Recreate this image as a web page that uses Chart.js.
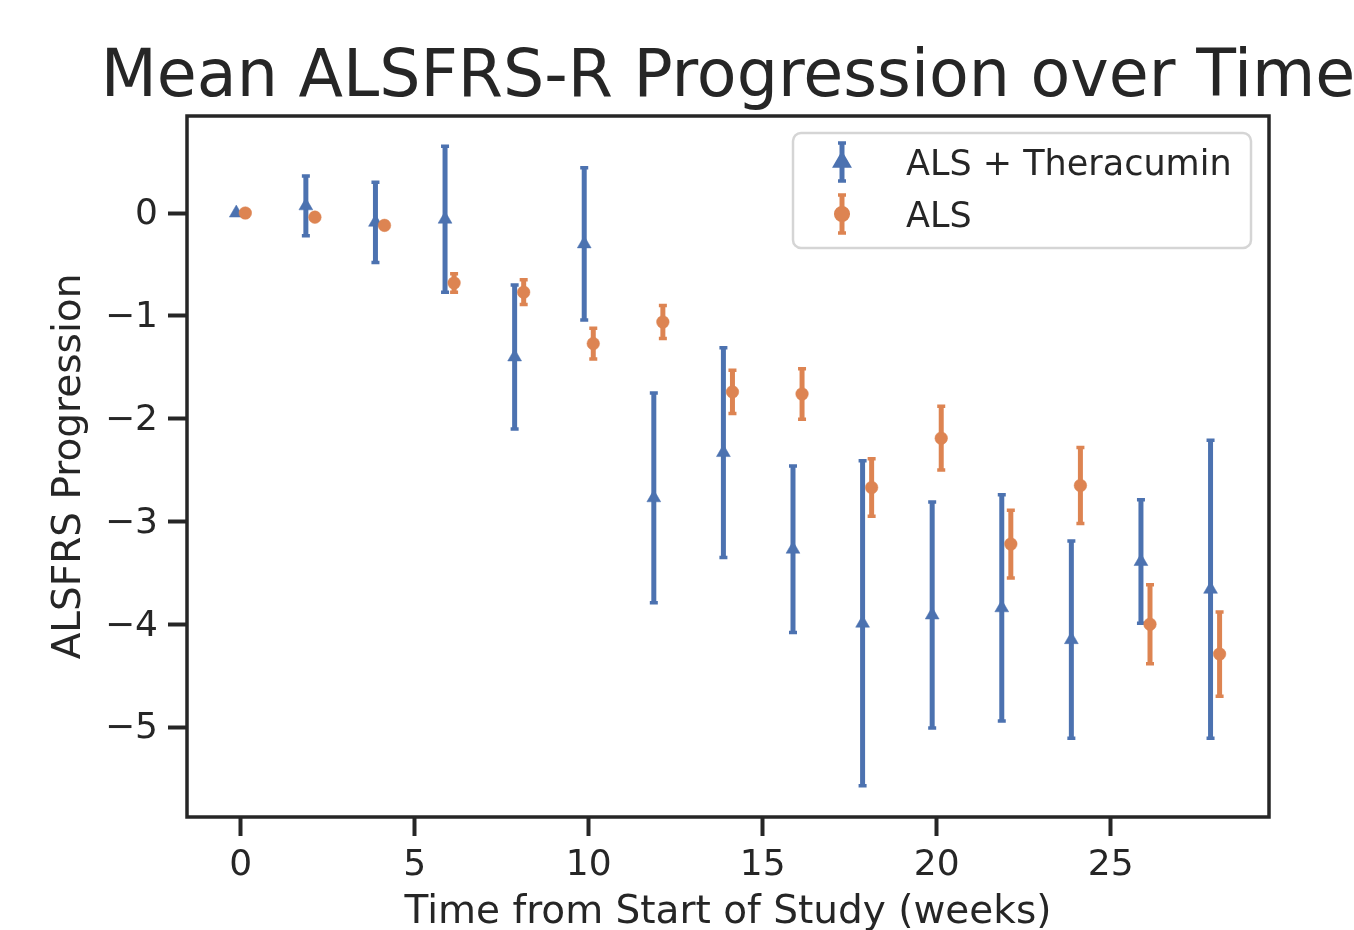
<!DOCTYPE html>
<html>
<head>
<meta charset="utf-8">
<script src="https://cdn.jsdelivr.net/npm/chart.js@4.4.1/dist/chart.umd.min.js"></script>
<style>
html, body { margin: 0; padding: 0; background: #ffffff; overflow: hidden; }
#wrap { width: 1354px; height: 930px; position: relative; }
</style>
</head>
<body>
<div id="wrap"><canvas id="c" width="1354" height="930"></canvas></div>
<script>
// ---- text ----
const titleText = 'Mean ALSFRS-R Progression over Time';
const xLabel = 'Time from Start of Study (weeks)';
const yLabel = 'ALSFRS Progression';
const seriesNames = ['ALS + Theracumin', 'ALS'];

// ---- data ----
const theraX    = [-0.13, 1.87, 3.87, 5.87, 7.87, 9.87, 11.87, 13.87, 15.87, 17.87, 19.87, 21.87, 23.87, 25.87, 27.87];
const theraMean = [0.00, 0.07, -0.09, -0.06, -1.40, -0.30, -2.77, -2.33, -3.27, -3.99, -3.91, -3.84, -4.15, -3.39, -3.66];
const theraErr  = [0.00, 0.29, 0.39, 0.71, 0.70, 0.74, 1.02, 1.02, 0.81, 1.58, 1.10, 1.10, 0.96, 0.60, 1.45];

const alsX    = [0.13, 2.13, 4.13, 6.13, 8.13, 10.13, 12.13, 14.13, 16.13, 18.13, 20.13, 22.13, 24.13, 26.13, 28.13];
const alsMean = [0.00, -0.04, -0.12, -0.68, -0.77, -1.27, -1.06, -1.74, -1.76, -2.67, -2.19, -3.22, -2.65, -4.00, -4.29];
const alsErr  = [0.00, 0.03, 0.03, 0.09, 0.12, 0.15, 0.16, 0.21, 0.245, 0.28, 0.31, 0.33, 0.37, 0.385, 0.41];

const xTicks = [0, 5, 10, 15, 20, 25];
const yTicks = [0, -1, -2, -3, -4, -5];
const xRange = [-1.546, 29.55];
const yRange = [-5.875, 0.944];

// ---- style ----
const BLUE = '#4c72b0';
const ORANGE = '#dd8452';
const INK = '#262626';
const FONT = "'DejaVu Sans', 'Liberation Sans', sans-serif";

const errArrays = [theraErr, alsErr];
const meanArrays = [theraMean, alsMean];
const xArrays = [theraX, alsX];

const toPts = (xs, ys) => xs.map((x, i) => ({ x: x, y: ys[i] }));

const BAR_W = 5, CAP_W = 3.5, CAP_HALF = 4;

function drawErr(ctx, px, y1, y2) {
  ctx.lineWidth = BAR_W;
  ctx.beginPath();
  ctx.moveTo(px, y1); ctx.lineTo(px, y2);
  ctx.stroke();
  ctx.lineWidth = CAP_W;
  ctx.beginPath();
  ctx.moveTo(px - CAP_HALF, y1); ctx.lineTo(px + CAP_HALF, y1);
  ctx.moveTo(px - CAP_HALF, y2); ctx.lineTo(px + CAP_HALF, y2);
  ctx.stroke();
}

const errorBarPlugin = {
  id: 'errorBars',
  beforeDatasetDraw(chart, args) {
    const i = args.index;
    const ds = chart.data.datasets[i];
    const xs = chart.scales.x, ys = chart.scales.y;
    const ctx = chart.ctx;
    const xArr = xArrays[i], m = meanArrays[i], e = errArrays[i];
    ctx.save();
    ctx.strokeStyle = ds.backgroundColor;
    ctx.lineCap = 'butt';
    for (let k = 0; k < xArr.length; k++) {
      if (!e[k]) continue;
      drawErr(ctx,
        xs.getPixelForValue(xArr[k]),
        ys.getPixelForValue(m[k] + e[k]),
        ys.getPixelForValue(m[k] - e[k]));
    }
    ctx.restore();
  }
};

const framePlugin = {
  id: 'frameTitleLegend',
  afterDraw(chart) {
    const ctx = chart.ctx;
    const a = chart.chartArea;
    ctx.save();
    // axes frame
    ctx.strokeStyle = INK;
    ctx.lineWidth = 3.5;
    ctx.strokeRect(a.left, a.top, a.right - a.left, a.bottom - a.top);

    // title, centred over the plot area
    ctx.fillStyle = INK;
    ctx.font = '65px ' + FONT;
    ctx.textAlign = 'center';
    ctx.textBaseline = 'alphabetic';
    ctx.fillText(titleText, (a.left + a.right) / 2, 96);

    // legend box (upper right)
    const bx = a.right - 476, by = a.top + 17, bw = 458, bh = 115, r = 8;
    ctx.beginPath();
    ctx.moveTo(bx + r, by);
    ctx.lineTo(bx + bw - r, by);
    ctx.arcTo(bx + bw, by, bx + bw, by + r, r);
    ctx.lineTo(bx + bw, by + bh - r);
    ctx.arcTo(bx + bw, by + bh, bx + bw - r, by + bh, r);
    ctx.lineTo(bx + r, by + bh);
    ctx.arcTo(bx, by + bh, bx, by + bh - r, r);
    ctx.lineTo(bx, by + r);
    ctx.arcTo(bx, by, bx + r, by, r);
    ctx.closePath();
    ctx.fillStyle = 'rgba(255,255,255,0.8)';
    ctx.fill();
    ctx.strokeStyle = '#d5d5d5';
    ctx.lineWidth = 2.5;
    ctx.stroke();

    const rows = [
      { color: BLUE, style: 'triangle', cy: by + 29, base: by + 42 },
      { color: ORANGE, style: 'circle', cy: by + 81, base: by + 94 }
    ];
    const mx = bx + 49;
    rows.forEach((row, k) => {
      ctx.strokeStyle = row.color;
      ctx.fillStyle = row.color;
      drawErr(ctx, mx, row.cy - 19, row.cy + 19);
      Chart.helpers.drawPoint(ctx, { pointStyle: row.style, radius: row.style === 'triangle' ? 8 : 6.3, borderWidth: 0.5, rotation: 0 }, mx, row.cy);
      ctx.fill();
      ctx.fillStyle = INK;
      ctx.font = '35px ' + FONT;
      ctx.textAlign = 'left';
      ctx.textBaseline = 'alphabetic';
      ctx.fillText(chart.data.datasets.find(d => d.label === seriesNames[k]).label, bx + 113, row.base);
    });
    ctx.restore();
  }
};

const minusFmt = v => (v < 0 ? '\u2212' + Math.abs(v) : String(v));

new Chart(document.getElementById('c'), {
  type: 'scatter',
  data: {
    datasets: [
      {
        label: seriesNames[0],
        data: toPts(theraX, theraMean),
        backgroundColor: BLUE,
        borderColor: BLUE,
        borderWidth: 0.5,
        pointStyle: 'triangle',
        pointRadius: 8,
        order: 1
      },
      {
        label: seriesNames[1],
        data: toPts(alsX, alsMean),
        backgroundColor: ORANGE,
        borderColor: ORANGE,
        borderWidth: 0.5,
        pointStyle: 'circle',
        pointRadius: 6.3,
        order: 0
      }
    ]
  },
  options: {
    responsive: false,
    animation: false,
    events: [],
    layout: { padding: { top: 116, right: 85, left: 0, bottom: 0 } },
    plugins: {
      legend: { display: false },
      title: { display: false },
      tooltip: { enabled: false }
    },
    scales: {
      x: {
        type: 'linear',
        min: xRange[0],
        max: xRange[1],
        afterBuildTicks: s => { s.ticks = xTicks.map(v => ({ value: v })); },
        afterFit: s => { s.height = 113; },
        border: { display: false },
        grid: { display: true, drawOnChartArea: false, drawTicks: true, tickLength: 19, tickWidth: 4, tickColor: INK, color: INK },
        ticks: { color: INK, font: { family: FONT, size: 36 }, padding: 8, maxRotation: 0, autoSkip: false, callback: v => minusFmt(v) },
        title: { display: true, text: xLabel, color: INK, font: { family: FONT, size: 39 }, padding: { top: 0, bottom: -6 } }
      },
      y: {
        type: 'linear',
        min: yRange[0],
        max: yRange[1],
        afterBuildTicks: s => { s.ticks = yTicks.map(v => ({ value: v })); },
        afterFit: s => { s.width = 187; },
        border: { display: false },
        grid: { display: true, drawOnChartArea: false, drawTicks: true, tickLength: 19, tickWidth: 4, tickColor: INK, color: INK },
        ticks: { color: INK, font: { family: FONT, size: 36 }, padding: 10, labelOffset: 2, autoSkip: false, callback: v => minusFmt(v) },
        title: { display: true, text: yLabel, color: INK, font: { family: FONT, size: 39 }, padding: { top: 46, bottom: 0 } }
      }
    }
  },
  plugins: [errorBarPlugin, framePlugin]
});
</script>
</body>
</html>
